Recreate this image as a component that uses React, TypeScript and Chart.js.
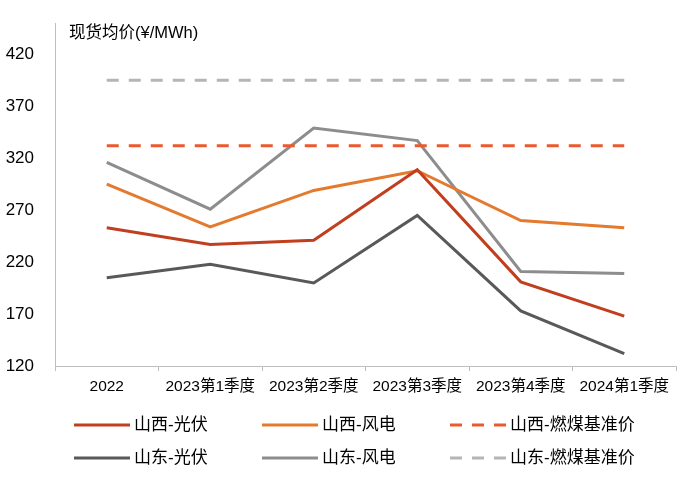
import { useEffect, useRef } from "react";
import { Chart, registerables } from "chart.js";

Chart.register(...registerables);

const categories = ["2022", "2023第1季度", "2023第2季度", "2023第3季度", "2023第4季度", "2024第1季度"];
const sxSolar = [253, 237, 241, 309, 201, 168];
const sxWind = [295, 254, 289, 308, 260, 253];
const sxCoal = [332, 332, 332, 332, 332, 332];
const sdSolar = [205, 218, 200, 265, 173, 132];
const sdWind = [316, 271, 349, 337, 211, 209];
const sdCoal = [395, 395, 395, 395, 395, 395];
const yTicks = [120, 170, 220, 270, 320, 370, 420];

const FONT = '"Liberation Sans", "Noto Sans CJK SC", Arial, sans-serif';

// legend slots: [lineStartX, y] in the order of the datasets
const legendSlots = [
  [74, 425],
  [262, 425],
  [450, 425],
  [74, 458],
  [262, 458],
  [450, 458],
];

const overlay = {
  id: "overlay",
  afterDraw(chart: Chart) {
    const ctx = chart.ctx;
    ctx.save();
    ctx.fillStyle = "#000";
    ctx.font = `16.5px ${FONT}`;
    ctx.textBaseline = "middle";
    ctx.textAlign = "left";
    ctx.fillText("现货均价(¥/MWh)", 69, 33);

    chart.data.datasets.forEach((ds: any, i: number) => {
      const [x, y] = legendSlots[i];
      ctx.beginPath();
      ctx.strokeStyle = ds.borderColor;
      ctx.lineWidth = 3;
      ctx.setLineDash(ds.borderDash || []);
      ctx.moveTo(x, y);
      ctx.lineTo(x + 56, y);
      ctx.stroke();
      ctx.setLineDash([]);
      ctx.fillStyle = "#000";
      ctx.font = `17px ${FONT}`;
      ctx.fillText(ds.label, x + 60, y);
    });
    ctx.restore();
  },
};

export default function App() {
  const canvasRef = useRef<HTMLCanvasElement | null>(null);

  useEffect(() => {
    document.body.style.margin = "0";
    if (!canvasRef.current) return;
    const line = (label: string, data: number[], color: string, dashed = false) => ({
      label,
      data,
      borderColor: color,
      backgroundColor: color,
      borderWidth: 3,
      borderDash: dashed ? [12, 10] : [],
      pointRadius: 0,
      tension: 0,
      fill: false,
    });

    const chart = new Chart(canvasRef.current, {
      type: "line",
      data: {
        labels: categories,
        datasets: [
          line("山西-光伏", sxSolar, "#C13F1F"),
          line("山西-风电", sxWind, "#E37A2E"),
          line("山西-燃煤基准价", sxCoal, "#EA5A2E", true),
          line("山东-光伏", sdSolar, "#595959"),
          line("山东-风电", sdWind, "#8D8D8D"),
          line("山东-燃煤基准价", sdCoal, "#B5B5B5", true),
        ],
      },
      options: {
        animation: false,
        responsive: false,
        devicePixelRatio: 1,
        layout: { padding: { left: 0, top: 23, right: 24, bottom: 86 } },
        plugins: {
          legend: { display: false },
          tooltip: { enabled: false },
        },
        scales: {
          x: {
            offset: true,
            grid: {
              offset: true,
              drawOnChartArea: false,
              drawTicks: true,
              tickLength: 5,
              color: "#BFBFBF",
            },
            border: { color: "#BFBFBF", width: 1 },
            ticks: {
              color: "#000",
              font: { family: FONT, size: 15.5 },
              padding: 6,
              maxRotation: 0,
              autoSkip: false,
            },
            afterFit: (scale: any) => {
              scale.height = 30;
            },
          },
          y: {
            min: 120,
            max: 450,
            grid: { display: false },
            border: { color: "#BFBFBF", width: 1 },
            ticks: {
              color: "#000",
              font: { family: FONT, size: 17 },
              padding: 13,
            },
            afterBuildTicks: (scale: any) => {
              scale.ticks = yTicks.map((v) => ({ value: v }));
            },
            afterFit: (scale: any) => {
              scale.width = 55;
            },
          },
        },
      },
      plugins: [overlay],
    });

    return () => {
      chart.destroy();
    };
  }, []);

  return (
    <div style={{ width: 700, height: 482, background: "#fff" }}>
      <canvas ref={canvasRef} width={700} height={482}></canvas>
    </div>
  );
}
